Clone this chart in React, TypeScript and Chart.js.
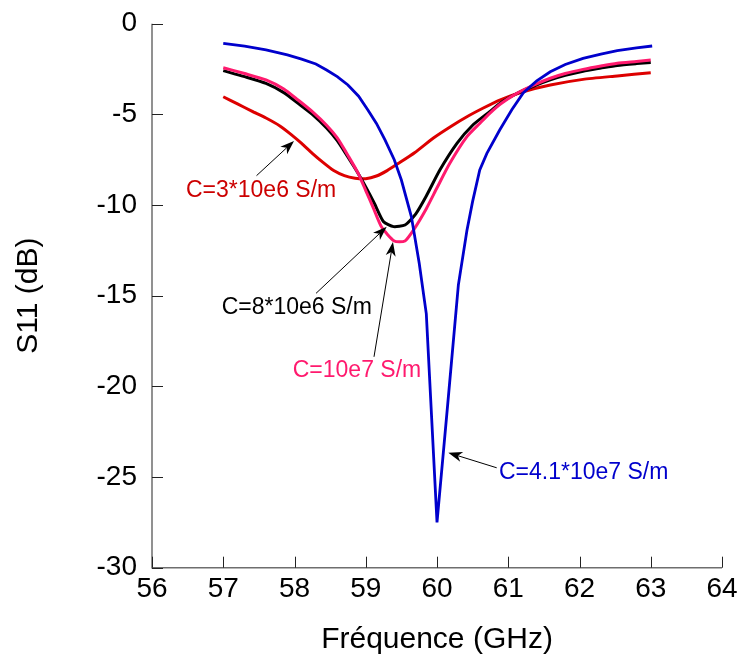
import React, { useEffect, useRef } from "react";
import { Chart, registerables } from "chart.js";
Chart.register(...registerables);

const freqBlue = [57.0, 57.3, 57.6, 57.9, 58.1, 58.3, 58.45, 58.6, 58.75, 58.9, 59.03, 59.15, 59.27, 59.4, 59.5, 59.64, 59.75, 59.85, 60.0, 60.15, 60.3, 60.42, 60.5, 60.6, 60.7, 60.88, 61.05, 61.21, 61.4, 61.59, 61.8, 62.05, 62.3, 62.53, 62.8, 63.02];
const s11Blue = [-1.08, -1.24, -1.45, -1.72, -1.95, -2.22, -2.55, -2.92, -3.38, -4.0, -4.76, -5.5, -6.41, -7.5, -8.62, -10.64, -13.2, -16.0, -27.5, -21.0, -14.4, -11.4, -9.8, -8.07, -7.15, -5.86, -4.75, -3.82, -3.15, -2.65, -2.25, -1.91, -1.68, -1.49, -1.33, -1.23];

const freqPink = [57.0, 57.3, 57.6, 57.85, 58.05, 58.25, 58.45, 58.6, 58.76, 58.9, 59.0, 59.1, 59.22, 59.4, 59.55, 59.67, 59.85, 60.0, 60.18, 60.42, 60.6, 60.74, 60.9, 61.12, 61.35, 61.59, 61.8, 62.05, 62.3, 62.53, 62.8, 63.0];
const s11Pink = [-2.43, -2.75, -3.1, -3.6, -4.21, -4.85, -5.6, -6.3, -7.33, -8.3, -9.2, -10.1, -11.2, -11.98, -11.98, -11.38, -10.2, -9.05, -7.7, -6.23, -5.5, -4.94, -4.4, -3.84, -3.4, -3.01, -2.75, -2.52, -2.33, -2.18, -2.08, -2.0];

const freqBlack = [57.0, 57.3, 57.6, 57.85, 58.05, 58.25, 58.45, 58.6, 58.76, 58.9, 59.0, 59.12, 59.25, 59.39, 59.55, 59.7, 59.85, 60.04, 60.28, 60.5, 60.74, 60.9, 61.12, 61.35, 61.59, 61.8, 62.05, 62.3, 62.53, 62.8, 63.0];
const s11Black = [-2.59, -2.92, -3.29, -3.8, -4.39, -5.0, -5.75, -6.45, -7.42, -8.3, -9.0, -9.9, -10.92, -11.19, -11.1, -10.5, -9.5, -8.07, -6.6, -5.6, -4.85, -4.35, -3.85, -3.45, -3.1, -2.85, -2.62, -2.45, -2.3, -2.2, -2.14];

const freqRed = [57.0, 57.2, 57.4, 57.6, 57.8, 57.95, 58.1, 58.25, 58.4, 58.55, 58.7, 58.85, 59.0, 59.15, 59.3, 59.46, 59.69, 59.95, 60.2, 60.42, 60.65, 60.88, 61.21, 61.59, 62.05, 62.53, 63.0];
const s11Red = [-4.03, -4.42, -4.82, -5.2, -5.65, -6.1, -6.6, -7.15, -7.65, -8.1, -8.38, -8.52, -8.55, -8.4, -8.1, -7.7, -7.1, -6.3, -5.65, -5.13, -4.65, -4.21, -3.75, -3.38, -3.07, -2.88, -2.7];

const xTicks = [56, 57, 58, 59, 60, 61, 62, 63, 64];
const yTicks = [0, -5, -10, -15, -20, -25, -30];

const labelTexts = ["C=3*10e6 S/m", "C=8*10e6 S/m", "C=10e7 S/m", "C=4.1*10e7 S/m"];
const labelColors = ["#cc0000", "#000000", "#ff1a6e", "#0000cc"];
// text anchor (left, middle) and arrow start -> tip, in data coordinates
const labelAnchors = [
  { tx: 56.477, ty: -9.23, ax: 57.467, ay: -8.38, hx: 57.993, hy: -6.47 },
  { tx: 56.978, ty: -15.64, ax: 58.302, ay: -14.87, hx: 59.294, hy: -11.2 },
  { tx: 57.975, ty: -19.16, ax: 59.116, ay: -18.37, hx: 59.382, hy: -12.04 },
  { tx: 60.87, ty: -24.78, ax: 60.838, ay: -24.49, hx: 60.159, hy: -23.66 },
];

const FONT = '"Liberation Sans", Arial, Helvetica, sans-serif';

const zip = (xs: number[], ys: number[]) => xs.map((x, i) => ({ x, y: ys[i] }));

const overlay = {
  id: "overlay",
  afterDraw(chart: any) {
    const { ctx, chartArea } = chart;
    const x = chart.scales.x;
    const y = chart.scales.y;
    ctx.save();
    ctx.strokeStyle = "#6e6e6e";
    ctx.lineWidth = 1.5;
    ctx.beginPath();
    ctx.moveTo(chartArea.left, chartArea.top);
    ctx.lineTo(chartArea.left, chartArea.bottom);
    ctx.lineTo(chartArea.right, chartArea.bottom);
    ctx.stroke();
    ctx.strokeStyle = "#222";
    ctx.lineWidth = 1;
    for (const t of xTicks) {
      const px = Math.round(x.getPixelForValue(t)) + 0.5;
      ctx.beginPath();
      ctx.moveTo(px, chartArea.bottom);
      ctx.lineTo(px, chartArea.bottom - 11);
      ctx.stroke();
    }
    for (const t of yTicks) {
      const py = Math.round(y.getPixelForValue(t)) + 0.5;
      ctx.beginPath();
      ctx.moveTo(chartArea.left, py);
      ctx.lineTo(chartArea.left + 11, py);
      ctx.stroke();
    }
    ctx.font = "23px " + FONT;
    ctx.textBaseline = "middle";
    ctx.textAlign = "left";
    labelTexts.forEach((text, i) => {
      const a = labelAnchors[i];
      ctx.fillStyle = labelColors[i];
      ctx.fillText(text, x.getPixelForValue(a.tx), y.getPixelForValue(a.ty));
      const x0 = x.getPixelForValue(a.ax);
      const y0 = y.getPixelForValue(a.ay);
      const x1 = x.getPixelForValue(a.hx);
      const y1 = y.getPixelForValue(a.hy);
      const ang = Math.atan2(y1 - y0, x1 - x0);
      const L = 14, W = 5, N = 10;
      ctx.strokeStyle = "#000";
      ctx.lineWidth = 1;
      ctx.beginPath();
      ctx.moveTo(x0, y0);
      ctx.lineTo(x1 - Math.cos(ang) * N, y1 - Math.sin(ang) * N);
      ctx.stroke();
      const c = Math.cos(ang), s = Math.sin(ang);
      const bx = x1 - c * L, by = y1 - s * L;
      ctx.fillStyle = "#000";
      ctx.beginPath();
      ctx.moveTo(x1, y1);
      ctx.lineTo(bx - s * W, by + c * W);
      ctx.lineTo(x1 - c * N, y1 - s * N);
      ctx.lineTo(bx + s * W, by - c * W);
      ctx.closePath();
      ctx.fill();
    });
    ctx.restore();
  },
};

export default function App() {
  const ref = useRef<HTMLCanvasElement | null>(null);
  useEffect(() => {
    if (!ref.current) return;
    const common = { pointRadius: 0, borderWidth: 3, tension: 0.2, fill: false };
    const chart = new Chart(ref.current, {
      type: "line",
      data: {
        datasets: [
          { ...common, label: "4.1e7", data: zip(freqBlue, s11Blue), borderColor: "#0000cc", borderWidth: 2.8, tension: 0 },
          { ...common, label: "1e7", data: zip(freqPink, s11Pink), borderColor: "#ff1a6e" },
          { ...common, label: "8e6", data: zip(freqBlack, s11Black), borderColor: "#000000" },
          { ...common, label: "3e6", data: zip(freqRed, s11Red), borderColor: "#dd0000" },
        ],
      },
      options: {
        animation: false,
        responsive: false,
        layout: { padding: { left: 0, top: 23.7, right: 17, bottom: 0 } },
        plugins: { legend: { display: false }, tooltip: { enabled: false } },
        scales: {
          x: {
            type: "linear",
            min: 56,
            max: 64,
            afterFit: (axis: any) => { axis.height = 97.3; axis.paddingLeft = 0; axis.paddingRight = 0; },
            afterBuildTicks: (axis: any) => { axis.ticks = xTicks.map((v) => ({ value: v })); },
            grid: { display: false, drawTicks: false },
            border: { display: false },
            ticks: { color: "#000", padding: 5, font: { family: FONT, size: 28 } },
            title: { display: true, text: "Fréquence (GHz)", color: "#000", font: { family: FONT, size: 30 }, padding: { top: 0, bottom: 7 } },
          },
          y: {
            type: "linear",
            min: -30,
            max: 0,
            afterFit: (axis: any) => { axis.width = 152; axis.paddingTop = 0; axis.paddingBottom = 0; },
            afterBuildTicks: (axis: any) => { axis.ticks = yTicks.map((v) => ({ value: v })); },
            grid: { display: false, drawTicks: false },
            border: { display: false },
            ticks: { color: "#000", padding: 15, font: { family: FONT, size: 28 } },
            title: { display: true, text: "S11 (dB)", color: "#000", font: { family: FONT, size: 30 }, padding: { top: 11, bottom: 0 } },
          },
        },
      },
      plugins: [overlay],
    } as any);
    return () => chart.destroy();
  }, []);
  return (
    <div style={{ position: "fixed", left: 0, top: 0, width: 739, height: 665, background: "#fff" }}>
      <canvas ref={ref} width={739} height={665} style={{ width: 739, height: 665, display: "block" }} />
    </div>
  );
}
